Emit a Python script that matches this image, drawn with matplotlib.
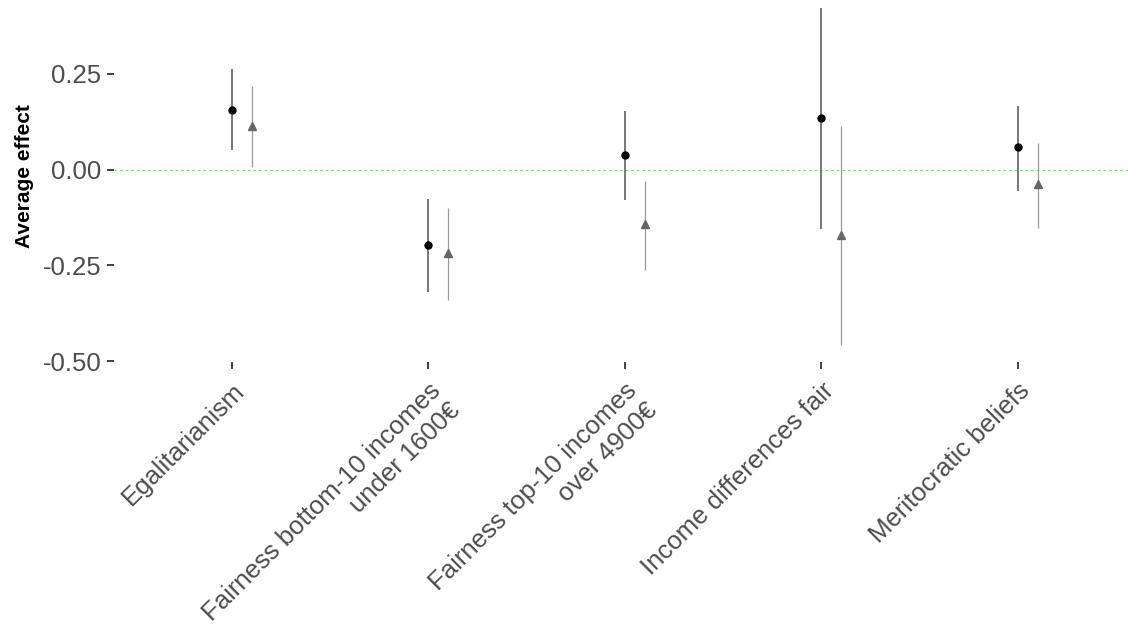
import numpy as np
import matplotlib
matplotlib.use("Agg")
import matplotlib.pyplot as plt

# ---------------------------------------------------------------------------
# Data
# ---------------------------------------------------------------------------
categories = [
    "Egalitarianism",
    "Fairness bottom-10 incomes\nunder 1600\u20ac",
    "Fairness top-10 incomes\nover 4900\u20ac",
    "Income differences fair",
    "Meritocratic beliefs",
]

# series 1: black circles
est_a = [0.156, -0.197, 0.038, 0.134, 0.058]
low_a = [0.051, -0.320, -0.079, -0.154, -0.055]
high_a = [0.262, -0.077, 0.152, 0.422, 0.167]

# series 2: grey triangles
est_b = [0.114, -0.218, -0.142, -0.171, -0.038]
low_b = [0.008, -0.340, -0.262, -0.458, -0.153]
high_b = [0.219, -0.099, -0.030, 0.115, 0.069]

yticks = [-0.50, -0.25, 0.00, 0.25]

plt.rcParams["font.family"] = ["Liberation Sans", "DejaVu Sans"]

W, H = 1128, 630
fig = plt.figure(figsize=(W / 100, H / 100), dpi=100)

# panel placement in pixels
left_px, right_px = 114, 1128
top_px, bottom_px = -9, 362
ax = fig.add_axes([left_px / W, 1 - bottom_px / H,
                   (right_px - left_px) / W, (bottom_px - top_px) / H])

x = np.arange(1, len(categories) + 1)
nudge = 0.1

ax.axhline(0, color="#66EE66", linewidth=0.8, linestyle=(0, (2.5, 2.5)), zorder=1)

ax.vlines(x, low_a, high_a, color="#777777", linewidth=1.4, zorder=2)
ax.plot(x, est_a, "o", color="black", markersize=5, zorder=3)

ax.vlines(x + nudge, low_b, high_b, color="#999999", linewidth=0.9, zorder=2)
ax.plot(x + nudge, est_b, "^", color="#666666", markersize=6, zorder=3)

ax.set_xlim(0.4, 0.4 + (right_px - left_px) / 196.5)
ax.set_ylim(-0.502, 0.466)

ax.set_yticks(yticks)
ax.set_yticklabels([f"{v:.2f}" for v in yticks])
ax.set_xticks(x)
ax.set_xticklabels(categories, rotation=45, ha="right", va="top",
                   rotation_mode="anchor", multialignment="right")

ax.tick_params(axis="both", colors="#333333", labelcolor="#4D4D4D",
               labelsize=18.5, length=5, width=1.3)
ax.tick_params(axis="x", pad=7)
ax.tick_params(axis="y", pad=4)

for s in ax.spines.values():
    s.set_visible(False)

ax.set_ylabel("Average effect", fontsize=15, fontweight="bold", color="black")
ax.yaxis.set_label_coords(-(left_px - 34) / (right_px - left_px), 0.5)

fig.savefig("out.png", dpi=100)
